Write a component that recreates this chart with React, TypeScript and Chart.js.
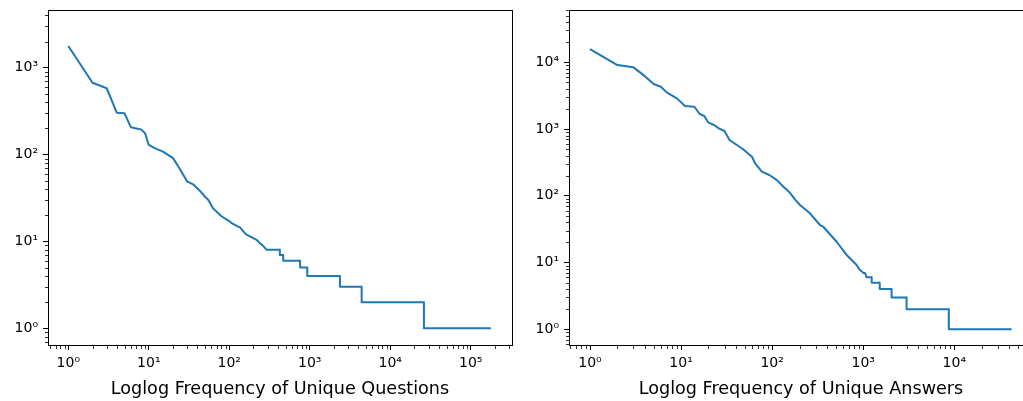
import React, { useEffect, useRef } from 'react';
import { Chart, registerables } from 'chart.js';

Chart.register(...registerables);

// ---- Data: rank-frequency (loglog) ----
const questionRanks = [1, 2, 3, 4, 5, 6, 7, 8, 9, 10, 12, 15, 20, 24, 30, 36, 43, 50, 55, 63, 80, 102, 107, 129, 136, 157, 164, 199, 219, 241, 260, 292, 424, 425, 467, 468, 758, 759, 930, 931, 2370, 2371, 4415, 4416, 26200, 26201, 178000];
const questionFreqs = [1780, 670, 580, 303, 298, 206, 200, 195, 176, 129, 118, 108, 91, 69.5, 49, 45, 38.4, 32.7, 30, 24, 19.5, 16.9, 16.2, 14.8, 14.5, 12.4, 12, 10.9, 10.4, 9.5, 9, 8, 8, 7, 7, 6, 6, 5, 5, 4, 4, 3, 3, 2, 2, 1, 1];

const answerRanks = [1, 2, 3, 4, 5, 6, 7, 9, 11, 14, 16, 18, 20, 23, 26, 30, 34, 48, 60, 65, 77, 93, 112, 133, 157, 178, 202, 260, 335, 364, 510, 657, 846, 900, 1000, 1044, 1090, 1237, 1238, 1516, 1517, 2048, 2049, 2990, 2991, 8700, 8701, 42600];
const answerFreqs = [15800, 9100, 8400, 6200, 4730, 4310, 3510, 2880, 2215, 2160, 1680, 1570, 1245, 1150, 1025, 935, 686, 498, 385, 307, 230, 205, 173, 137, 111, 88.5, 72.8, 54.7, 36.5, 34.4, 20.5, 13, 9.2, 8, 7, 7, 6, 6, 5, 5, 4, 4, 3, 3, 2, 2, 1, 1];

// ---- Axis ranges and tick labels ----
const questionXRange = [0.5596, 325600];
const questionYRange = [0.642, 4616];
const answerXRange = [0.588, 73100];
const answerYRange = [0.5817, 60760];

const questionXTicks = [1, 10, 100, 1000, 10000, 100000];
const questionXLabels = ['10⁰', '10¹', '10²', '10³', '10⁴', '10⁵'];
const questionYTicks = [1, 10, 100, 1000];
const questionYLabels = ['10⁰', '10¹', '10²', '10³'];
const answerXTicks = [1, 10, 100, 1000, 10000];
const answerXLabels = ['10⁰', '10¹', '10²', '10³', '10⁴'];
const answerYTicks = [1, 10, 100, 1000, 10000];
const answerYLabels = ['10⁰', '10¹', '10²', '10³', '10⁴'];

const questionTitle = 'Loglog Frequency of Unique Questions';
const answerTitle = 'Loglog Frequency of Unique Answers';

const FONT = "'DejaVu Sans', sans-serif";
const LINE_COLOR = '#1f77b4';

const framePlugin = {
  id: 'mplFrame',
  afterDraw(chart: any) {
    const { ctx, chartArea: a, scales } = chart;
    ctx.save();
    ctx.strokeStyle = '#000';
    ctx.lineWidth = 1;
    const top = Math.round(a.top) + 0.5;
    const right = Math.round(a.right) + 0.5;
    const left = Math.round(a.left) + 0.5;
    const bottom = Math.round(a.bottom) + 0.5;
    ctx.beginPath();
    ctx.moveTo(left - 0.5, top);
    ctx.lineTo(right + 0.5, top);
    ctx.moveTo(right, top);
    ctx.lineTo(right, bottom + 0.5);
    ctx.stroke();

    // minor ticks
    ctx.lineWidth = 0.8;
    const drawMinor = (scale: any, horizontal: boolean) => {
      const lo = Math.floor(Math.log10(scale.min));
      const hi = Math.ceil(Math.log10(scale.max));
      ctx.beginPath();
      for (let k = lo; k <= hi; k++) {
        for (let m = 2; m <= 9; m++) {
          const v = m * Math.pow(10, k);
          if (v < scale.min || v > scale.max) continue;
          const p = Math.round(scale.getPixelForValue(v)) + 0.5;
          if (horizontal) {
            ctx.moveTo(p, bottom + 0.5);
            ctx.lineTo(p, bottom + 3.5);
          } else {
            ctx.moveTo(left - 0.5, p);
            ctx.lineTo(left - 3.5, p);
          }
        }
      }
      ctx.stroke();
    };
    drawMinor(scales.x, true);
    drawMinor(scales.y, false);
    ctx.restore();
  },
};

type PlotProps = {
  ranks: number[];
  freqs: number[];
  xRange: number[];
  yRange: number[];
  xTicks: number[];
  xLabels: string[];
  yTicks: number[];
  yLabels: string[];
  title: string;
  leftPx: number;
  canvasWidth: number;
  yAxisWidth: number;
  padRight: number;
};

function LogPlot(props: PlotProps) {
  const ref = useRef<HTMLCanvasElement>(null);
  useEffect(() => {
    const { ranks, freqs, xRange, yRange, xTicks, xLabels, yTicks, yLabels, title, yAxisWidth, padRight } = props;
    const zeroPad = (s: any) => {
      s.paddingLeft = 0;
      s.paddingRight = 0;
      s.paddingTop = 0;
      s.paddingBottom = 0;
    };
    const chart = new Chart(ref.current as HTMLCanvasElement, {
      type: 'line',
      data: {
        datasets: [
          {
            data: ranks.map((r, i) => ({ x: r, y: freqs[i] })),
            borderColor: LINE_COLOR,
            borderWidth: 2,
            pointRadius: 0,
            fill: false,
            tension: 0,
            borderJoinStyle: 'round',
            borderCapStyle: 'butt',
          },
        ],
      },
      options: {
        animation: false,
        responsive: false,
        devicePixelRatio: 1,
        events: [],
        layout: { padding: { top: 10, right: padRight, left: 0, bottom: 0 } },
        plugins: {
          legend: { display: false },
          tooltip: { enabled: false },
          title: { display: false },
        },
        scales: {
          x: {
            type: 'logarithmic',
            position: 'bottom',
            min: xRange[0],
            max: xRange[1],
            bounds: 'data',
            grid: { display: true, drawOnChartArea: false, drawTicks: true, tickLength: 5, tickColor: '#000', tickWidth: 1 },
            border: { display: true, color: '#000', width: 1 },
            ticks: {
              autoSkip: false,
              maxRotation: 0,
              minRotation: 0,
              padding: 5,
              color: '#000',
              font: { family: FONT, size: 14 },
              callback: (v: any) => {
                const k = xTicks.indexOf(Number(v));
                return k >= 0 ? xLabels[k] : '';
              },
            },
            title: { display: true, text: title, color: '#000', font: { family: FONT, size: 17.6 }, padding: { top: 0, bottom: 1 } },
            afterBuildTicks: (s: any) => {
              s.ticks = xTicks.map((v) => ({ value: v }));
            },
            afterFit: (s: any) => {
              s.height = 56;
              zeroPad(s);
            },
          },
          y: {
            type: 'logarithmic',
            position: 'left',
            min: yRange[0],
            max: yRange[1],
            bounds: 'data',
            grid: { display: true, drawOnChartArea: false, drawTicks: true, tickLength: 5, tickColor: '#000', tickWidth: 1 },
            border: { display: true, color: '#000', width: 1 },
            ticks: {
              autoSkip: false,
              padding: 5,
              color: '#000',
              font: { family: FONT, size: 14 },
              callback: (v: any) => {
                const k = yTicks.indexOf(Number(v));
                return k >= 0 ? yLabels[k] : '';
              },
            },
            afterBuildTicks: (s: any) => {
              s.ticks = yTicks.map((v) => ({ value: v }));
            },
            afterFit: (s: any) => {
              s.width = yAxisWidth;
              zeroPad(s);
            },
          },
        },
      } as any,
      plugins: [framePlugin],
    });
    return () => chart.destroy();
  }, []);
  return (
    <canvas
      ref={ref}
      width={props.canvasWidth}
      height={401}
      style={{ position: 'absolute', left: props.leftPx, top: 0, width: props.canvasWidth, height: 401, display: 'block' }}
    />
  );
}

export default function App() {
  return (
    <div style={{ position: 'fixed', left: 0, top: 0, width: 1023, height: 401, overflow: 'hidden', background: '#fff' }}>
      <LogPlot
        ranks={questionRanks}
        freqs={questionFreqs}
        xRange={questionXRange}
        yRange={questionYRange}
        xTicks={questionXTicks}
        xLabels={questionXLabels}
        yTicks={questionYTicks}
        yLabels={questionYLabels}
        title={questionTitle}
        leftPx={0}
        canvasWidth={520}
        yAxisWidth={48}
        padRight={8}
      />
      <LogPlot
        ranks={answerRanks}
        freqs={answerFreqs}
        xRange={answerXRange}
        yRange={answerYRange}
        xTicks={answerXTicks}
        xLabels={answerXLabels}
        yTicks={answerYTicks}
        yLabels={answerYLabels}
        title={answerTitle}
        leftPx={520}
        canvasWidth={520}
        yAxisWidth={49}
        padRight={7}
      />
    </div>
  );
}
